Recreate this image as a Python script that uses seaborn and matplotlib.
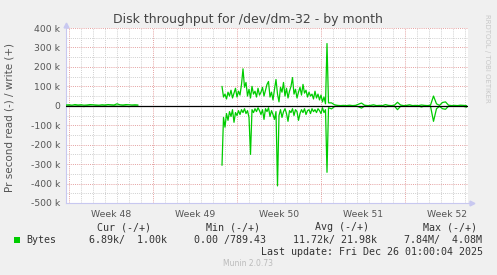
import numpy as np
import pandas as pd
import matplotlib
matplotlib.use("Agg")
import matplotlib.pyplot as plt
from matplotlib.patches import Rectangle
import seaborn as sns

W, H = 497, 275

# ---------------- data (values in k bytes/s) ----------------
early_start, early_step = -0.25, 0.25
early_write = [4, 5, 3, 6, 4, 5, 3, 4, 6, 5, 4, 3, 5, 4, 6, 5, 4, 10, 5, 4, 6, 5, 4, 5, 4]
early_read = [2, 1, 3, 2, 1, 2, 4, 1, 2, 3, 1, 2, 2, 1, 3, 2, 1, 2, 3, 1, 2, 4, 2, 1, 2]

busy_start, busy_step = 12.75, 0.125
busy_write = [100, 45, 60, 35, 70, 50, 80, 40, 65, 90,
              45, 75, 55, 110, 190, 95, 120, 50, 85, 40,
              100, 60, 75, 45, 90, 55, 70, 95, 50, 80,
              110, 125, 45, 70, 30, 85, 135, 60, 20, 95,
              70, 120, 50, 90, 40, 75, 100, 145, 60, 85,
              40, 70, 95, 55, 110, 65, 80, 45, 70, 50,
              60, 35, 75, 40, 60, 30, 55, 20, 45, 10,
              320, 15]
busy_read = [306, 60, 110, 40, 75, 30, 55, 20, 85, 35,
             50, 25, 45, 20, 35, 15, 40, 25, 60, 250,
             20, 35, 15, 30, 10, 25, 45, 20, 70, 15,
             30, 10, 55, 25, 45, 70, 30, 412, 50, 20,
             60, 30, 15, 40, 80, 25, 35, 15, 50, 20,
             30, 75, 40, 20, 35, 15, 45, 25, 20, 40,
             15, 30, 20, 35, 15, 25, 40, 10, 35, 20,
             342, 10]

late_start, late_step = 21.875, 0.25
late_write = [15, 5, 2, 1, 2, 1, 3, 1, 2, 8, 14, 3, 1, 2, 5, 1, 2, 1, 6, 2,
              1, 3, 18, 4, 1, 2, 5, 1, 2, 1, 4, 2, 1, 3, 50, 10, 2, 17, 20, 3,
              1, 2, 1, 3, 2, 1]
late_read = [16, 4, 1, 2, 1, 2, 1, 2, 1, 5, 12, 2, 1, 1, 4, 2, 1, 2, 5, 1,
             2, 2, 20, 3, 1, 1, 3, 2, 1, 1, 6, 1, 2, 2, 80, 15, 3, 15, 18, 2,
             1, 1, 2, 1, 3, 7]

week_labels = ["Week 48", "Week 49", "Week 50", "Week 51", "Week 52"]
y_ticks_k = [400, 300, 200, 100, 0, -100, -200, -300, -400, -500]

title = "Disk throughput for /dev/dm-32 - by month"
ylabel = "Pr second read (-) / write (+)"
legend_headers = ["Cur (-/+)", "Min (-/+)", "Avg (-/+)", "Max (-/+)"]
legend_values = ["6.89k/  1.00k", "0.00 /789.43", "11.72k/ 21.98k", "7.84M/  4.08M"]
last_update = "Last update: Fri Dec 26 01:00:04 2025"

# ---------------- build table ----------------
rows = []
def add(start, step, vals, sign, unit):
    for i, v in enumerate(vals):
        rows.append(dict(day=start + i * step, value=sign * v * 1000.0, unit=unit))

add(early_start, early_step, early_write, 1, "w0")
add(early_start, early_step, early_read, -1, "r0")
add(busy_start, busy_step, busy_write, 1, "w1")
add(busy_start, busy_step, busy_read, -1, "r1")
add(late_start, late_step, late_write, 1, "w1")
add(late_start, late_step, late_read, -1, "r1")
df = pd.DataFrame(rows)

# ---------------- figure ----------------
sns.set_theme(style="white")
plt.rcParams["font.family"] = ["DejaVu Sans"]
fig = plt.figure(figsize=(W / 100, H / 100), dpi=100, facecolor="#f0f0f0")

def fx(px): return px / W
def fy(py): return 1 - py / H

left, right, top, bottom = 66, 468, 28, 203
ax = fig.add_axes([fx(left), fy(bottom), fx(right - left), (bottom - top) / H])
ax.set_facecolor("white")

xmin, xmax = -0.25, 33.25
ax.set_xlim(xmin, xmax)
ax.set_ylim(-500000, 400000)

# grid
red_grid, gray_grid = "#e4a0a0", "#cfcfcf"
for d in range(0, 34):
    major = d % 7 == 0
    ax.axvline(d, color=red_grid if major else gray_grid, lw=0.7,
               ls=(0, (1, 1.2)), zorder=1)
for v in range(-450, 450, 50):
    major = v % 100 == 0
    ax.axhline(v * 1000, color=red_grid if major else gray_grid, lw=0.7,
               ls=(0, (1, 1.2)), zorder=1)

sns.lineplot(data=df, x="day", y="value", units="unit", estimator=None,
             color="#00cc00", lw=0.9, sort=False, ax=ax, zorder=3)
ax.axhline(0, color="black", lw=0.9, zorder=4)

# ticks
ax.set_yticks([v * 1000 for v in y_ticks_k])
ax.set_yticklabels([("0" if v == 0 else f"{v} k") for v in y_ticks_k])
ax.tick_params(axis="y", length=2, width=0.6, color="#e0a0a0", pad=2,
               labelsize=6.7, labelcolor="#555555")
ax.set_xticks([0, 7, 14, 21, 28])
ax.set_xticklabels([""] * 5)
ax.tick_params(axis="x", which="major", length=2, width=0.6, color="#e0a0a0",
               direction="out")
ax.set_xticks([3.5 + 7 * k for k in range(5)], minor=True)
ax.set_xticklabels(week_labels, minor=True)
ax.tick_params(axis="x", which="minor", length=0, pad=5, labelsize=6.7,
               labelcolor="#555555")
ax.set_xlabel("")
ax.set_ylabel("")

for s in ["top", "right"]:
    ax.spines[s].set_visible(False)
for s in ["left", "bottom"]:
    ax.spines[s].set_color("#c8c8f0")
    ax.spines[s].set_linewidth(0.8)
ax.plot([1.0, 1.0095], [0, 0], color="#c8c8f0", lw=0.8, transform=ax.transAxes, clip_on=False)
ax.plot([1.0095], [0], marker=">", ms=3.5, color="#c8c8f0", transform=ax.transAxes, clip_on=False)
ax.plot([0, 0], [1.0, 1.02], color="#c8c8f0", lw=0.8, transform=ax.transAxes, clip_on=False)
ax.plot([0], [1.02], marker="^", ms=3.5, color="#c8c8f0", transform=ax.transAxes, clip_on=False)

# texts
fig.text(fx(248), fy(19), title, ha="center", va="center", fontsize=9, color="#444444")
fig.text(fx(10), fy(117), ylabel, ha="center", va="center", rotation=90,
         fontsize=7.5, color="#555555")
fig.text(fx(487), fy(58), "RRDTOOL / TOBI OETIKER", ha="center", va="center",
         rotation=270, fontsize=5, color="#c8c8c8")

mono = "DejaVu Sans Mono"
for cx, t in zip([124, 233, 342, 450], legend_headers):
    fig.text(fx(cx), fy(227), t, ha="center", va="center", family=mono,
             fontsize=7.2, color="#333333")
fig.patches.append(Rectangle((fx(14), fy(243)), fx(6), 6 / H, transform=fig.transFigure,
                             facecolor="#00cc00", edgecolor="none"))
fig.text(fx(26.5), fy(240), "Bytes", ha="left", va="center", family=mono,
         fontsize=7.2, color="#333333")
for sx, t in zip([89, 194, 293, 404], legend_values):
    fig.text(fx(sx), fy(240), t, ha="left", va="center", family=mono,
             fontsize=7.2, color="#333333")
fig.text(fx(483), fy(252), last_update, ha="right", va="center", family=mono,
         fontsize=7.2, color="#333333")
fig.text(fx(248), fy(264), "Munin 2.0.73", ha="center", va="center",
         fontsize=5.5, color="#bbbbbb")

fig.savefig("out.png", dpi=100, facecolor=fig.get_facecolor())
